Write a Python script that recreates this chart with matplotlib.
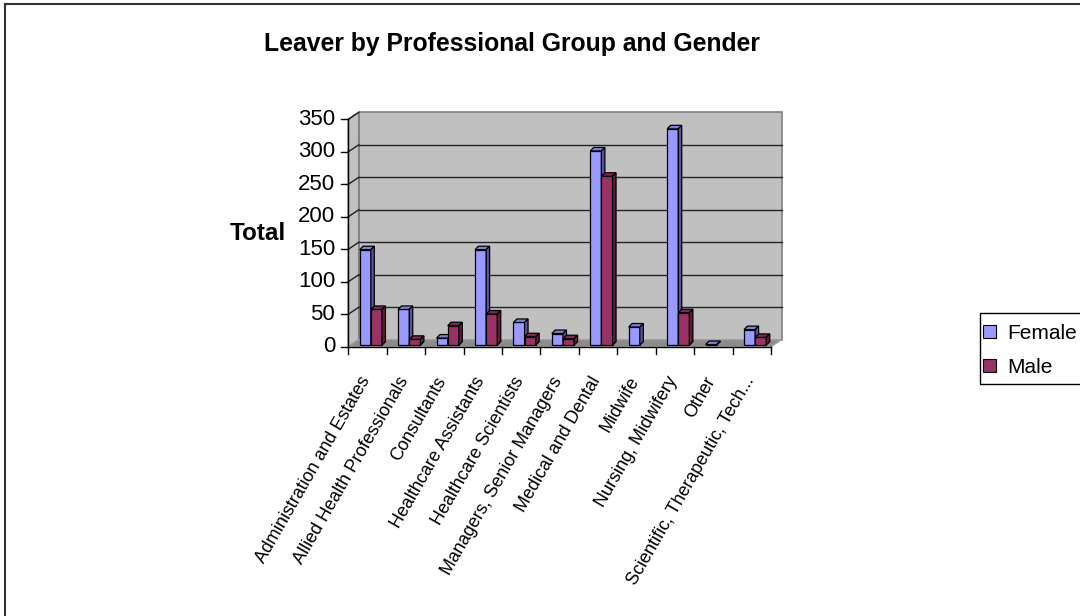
import matplotlib
matplotlib.use("Agg")
import matplotlib.pyplot as plt
from matplotlib.patches import Polygon, Rectangle

plt.rcParams["font.family"] = ["Liberation Sans", "DejaVu Sans"]

groups = [
    "Administration and Estates",
    "Allied Health Professionals",
    "Consultants",
    "Healthcare Assistants",
    "Healthcare Scientists",
    "Managers, Senior Managers",
    "Medical and Dental",
    "Midwife",
    "Nursing, Midwifery",
    "Other",
    "Scientific, Therapeutic, Tech...",
]
female = [147, 55, 11, 147, 35, 18, 299, 28, 333, 1, 24]
male = [55, 9, 30, 48, 13, 10, 260, 0, 50, 0, 12]
y_ticks = [0, 50, 100, 150, 200, 250, 300, 350]

# pixel layout of the front plane
W, H = 1080, 616
X0_PX = 348.3          # left edge of the category axis
CAT_PX = 38.43         # width of one category
Y0_PX = 346.7          # value 0
UNIT_PX = 0.6497       # pixels per unit value

def px_to_x(p):
    return (p - X0_PX) / CAT_PX - 0.5

def px_to_v(p):
    return (Y0_PX - p) / UNIT_PX

xlim = (-0.9, 11.2)
ylim = (-30, 370)
left = X0_PX + (xlim[0] + 0.5) * CAT_PX
right = X0_PX + (xlim[1] + 0.5) * CAT_PX
bottom = Y0_PX - ylim[0] * UNIT_PX
top = Y0_PX - ylim[1] * UNIT_PX

fig = plt.figure(figsize=(W / 100, H / 100), dpi=100)
ax = fig.add_axes([left / W, (H - bottom) / H, (right - left) / W, (bottom - top) / H])
ax.set_xlim(*xlim)
ax.set_ylim(*ylim)
ax.axis("off")

n = len(groups)
xa, xb = -0.5, n - 0.5
vmax = y_ticks[-1]
DX, DY = 10.5 / CAT_PX, 7.0 / UNIT_PX        # wall depth
BDX, BDY = 3.5 / CAT_PX, 3.5 / UNIT_PX       # bar depth
SX, SY = 3.3 / CAT_PX, 1.5 / UNIT_PX         # bars sit a bit back from the front
BW = 0.29

wall = "#c0c0c0"
edge = "#808080"

# back wall, side wall, floor
ax.add_patch(Polygon([(xa + DX, DY), (xb + DX, DY), (xb + DX, vmax + DY), (xa + DX, vmax + DY)],
                     closed=True, fc=wall, ec=edge, lw=1.2, zorder=1))
ax.add_patch(Polygon([(xa, 0), (xa + DX, DY), (xa + DX, vmax + DY), (xa, vmax)],
                     closed=True, fc=wall, ec=edge, lw=1.2, zorder=1))
ax.add_patch(Polygon([(xa, 0), (xb, 0), (xb + DX, DY), (xa + DX, DY)],
                     closed=True, fc="#8c8c8c", ec="#a0a0a0", lw=1.0, zorder=1))

# gridlines
for v in y_ticks[1:-1]:
    ax.plot([xa + DX, xb + DX], [v + DY, v + DY], color="#222222", lw=1.0, zorder=2)
for v in y_ticks[1:]:
    ax.plot([xa, xa + DX], [v, v + DY], color="#222222", lw=1.0, zorder=2)

# axes lines and ticks
ax.plot([xa, xa], [0, vmax], color="black", lw=1.0, zorder=2)
ax.plot([xa, xb], [0, 0], color="black", lw=1.0, zorder=2)
tick_len = 7.0 / CAT_PX
for v in y_ticks:
    ax.plot([xa - tick_len, xa], [v, v], color="black", lw=1.0, zorder=2)
    ax.text(px_to_x(335), v, str(v), ha="right", va="center", fontsize=16)
for i in range(n + 1):
    ax.plot([i - 0.5, i - 0.5], [0, -7.0 / UNIT_PX], color="black", lw=1.0, zorder=2)

# 3d columns (zero values are left out)
series = [(female, "#9999ff", "#8080d8", "#55559a", -BW),
          (male, "#993366", "#7d2953", "#5a1e3c", 0.0)]
for i in range(n):
    for vals, front, topc, side, off in series:
        v = vals[i]
        if v <= 0:
            continue
        x1 = i + off + SX
        x2 = x1 + BW
        y1 = SY
        y2 = SY + v
        ax.bar(x1, v, width=BW, bottom=y1, align="edge", color=front,
               edgecolor="black", linewidth=0.9, zorder=3)
        ax.add_patch(Polygon([(x1, y2), (x2, y2), (x2 + BDX, y2 + BDY), (x1 + BDX, y2 + BDY)],
                             closed=True, fc=topc, ec="black", lw=0.9, zorder=3))
        ax.add_patch(Polygon([(x2, y1), (x2 + BDX, y1 + BDY), (x2 + BDX, y2 + BDY), (x2, y2)],
                             closed=True, fc=side, ec="black", lw=0.9, zorder=3))

# category labels
for i, name in enumerate(groups):
    ax.text(i - 0.04, px_to_v(378), name, rotation=60, rotation_mode="anchor",
            ha="right", va="center", fontsize=12.9)

fig.text(512 / W, 1 - 44 / H, "Leaver by Professional Group and Gender",
         ha="center", va="center", fontsize=17.8, fontweight="bold")
fig.text(257.5 / W, 1 - 233 / H, "Total", ha="center", va="center",
         fontsize=17.5, fontweight="bold")

# legend, with its frame drawn separately so the box can run off the right edge
handles = [Rectangle((0, 0), 1, 1, fc="#9999ff", ec="black", lw=0.8),
           Rectangle((0, 0), 1, 1, fc="#993366", ec="black", lw=0.8)]
fig.legend(handles, ["Female", "Male"], loc="upper left",
           bbox_to_anchor=(981 / W, 1 - 322 / H), fontsize=15,
           frameon=False, borderpad=0.1, borderaxespad=0,
           handlelength=0.6, handleheight=0.6, handletextpad=0.55,
           labelspacing=0.72)
fig.add_artist(Rectangle((980 / W, 1 - 384 / H), 0.2, 71 / H, transform=fig.transFigure,
                         fill=False, ec="black", lw=1.0))

# chart area border
fig.add_artist(Rectangle((4.5 / W, -0.1), 1.2, 1 - 4.5 / H + 0.1, transform=fig.transFigure,
                         fill=False, ec="#333333", lw=1.5))

fig.savefig("out.png", dpi=100)
